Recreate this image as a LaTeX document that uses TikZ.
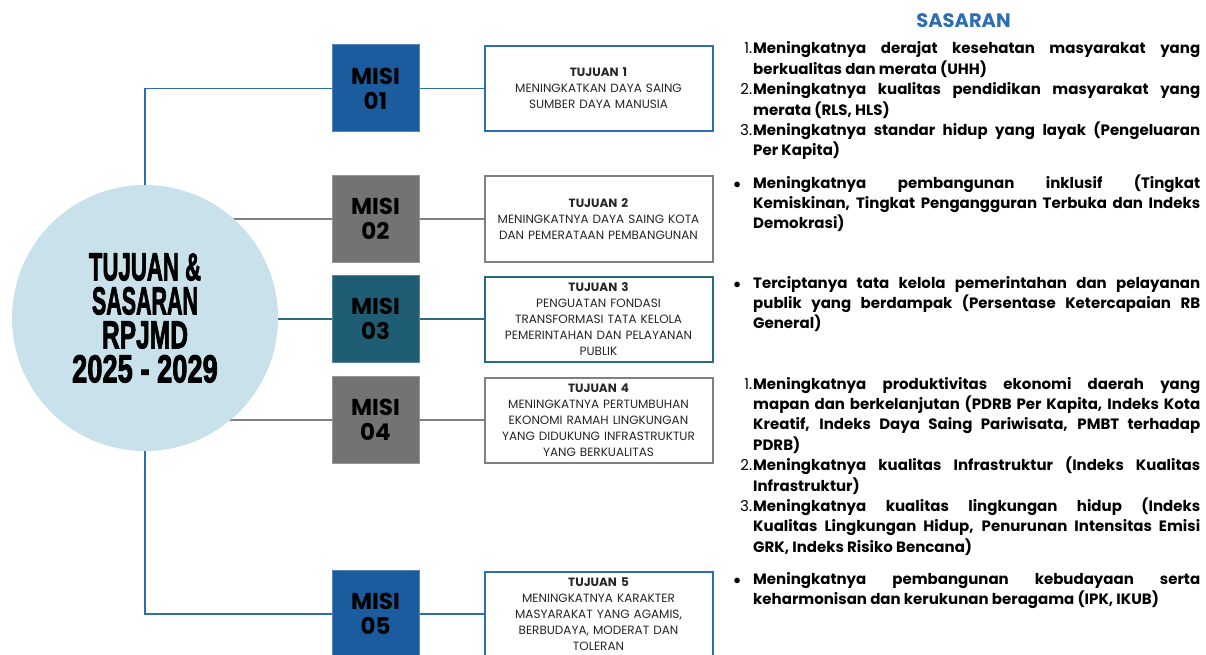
\documentclass[tikz,border=0pt]{standalone}
\usepackage{fontspec}
\usepackage{graphicx}
\setmainfont{Poppins}
\newfontface\hubfont[FakeBold=2.5]{Liberation Sans Bold}
\usetikzlibrary{positioning, backgrounds}

\definecolor{misiblue}{HTML}{1B5C9E}
\definecolor{lineblue}{HTML}{2E6DB4}
\definecolor{misigrey}{HTML}{737373}
\definecolor{linegrey}{HTML}{808080}
\definecolor{misiteal}{HTML}{1E5D73}
\definecolor{lineteal}{HTML}{2B6A80}
\definecolor{hubfill}{HTML}{C8E1EB}

\newcommand{\cond}[2]{\scalebox{#1}[1.3]{#2}}
\newcommand{\sasitem}[1]{\noindent\hangindent=20pt\hangafter=1\makebox[20pt][r]{\mdseries #1\hspace{1pt}}}
\newcommand{\sasbullet}{\noindent\hangindent=20pt\hangafter=1\makebox[20pt][l]{\hspace{0.5pt}$\bullet$}}

\tikzset{
	misi/.style={fill=#1, draw=#1!75!white, line width=1pt, minimum size=87pt, inner sep=0pt, align=center, font=\bfseries\fontsize{23}{25}\selectfont},
	tujuan/.style={draw=#1, line width=2pt, fill=white, minimum width=228pt, minimum height=85pt, text width=224pt, inner sep=0pt, align=center, text=black!85, font=\fontsize{12}{16}\selectfont},
	link/.style={draw=#1, line width=1.6pt},
	sasaran/.style={anchor=base west, inner sep=0pt, text width=467pt, align=justify, font=\bfseries\fontsize{15}{20.4}\selectfont}
}

\begin{document}
\begin{tikzpicture}[x=1pt, y=-1pt]
	\useasboundingbox (0,0) rectangle (1206,655);

	% centre circle
	\node[circle, fill=hubfill, minimum size=266pt, inner sep=0pt, align=center, font=\hubfont\fontsize{30}{34}\selectfont] (hub) at (145,318)
		{\cond{0.74}{TUJUAN \&}\\\cond{0.715}{SASARAN}\\\cond{0.82}{RPJMD}\\\cond{0.91}{2025 - 2029}};

	% misi
	\node[misi=misiblue] (m1) at (375.5,88.5) {MISI\\01};
	\node[misi=misigrey] (m2) at (375.5,219) {MISI\\02};
	\node[misi=misiteal] (m3) at (375.5,319) {MISI\\03};
	\node[misi=misigrey] (m4) at (375.5,420) {MISI\\04};
	\node[misi=misiblue] (m5) at (375.5,614) {MISI\\05};

	% tujuan
	\node[tujuan=lineblue, right=64pt of m1] (t1) {\textbf{TUJUAN 1}\\MENINGKATKAN DAYA SAING\\SUMBER DAYA MANUSIA};
	\node[tujuan=linegrey, right=64pt of m2] (t2) {\textbf{TUJUAN 2}\\MENINGKATNYA DAYA SAING KOTA\\DAN PEMERATAAN PEMBANGUNAN};
	\node[tujuan=lineteal, right=64pt of m3] (t3) {\textbf{TUJUAN 3}\\PENGUATAN FONDASI\\TRANSFORMASI TATA KELOLA\\PEMERINTAHAN DAN PELAYANAN\\PUBLIK};
	\node[tujuan=linegrey, right=64pt of m4] (t4) {\textbf{TUJUAN 4}\\MENINGKATNYA PERTUMBUHAN\\EKONOMI RAMAH LINGKUNGAN\\YANG DIDUKUNG INFRASTRUKTUR\\YANG BERKUALITAS};
	\node[tujuan=lineblue, right=64pt of m5] (t5) {\textbf{TUJUAN 5}\\MENINGKATNYA KARAKTER\\MASYARAKAT YANG AGAMIS,\\BERBUDAYA, MODERAT DAN\\TOLERAN};

	% connectors
	\begin{scope}[on background layer]
		\draw[link=lineblue] (m1.west) -- (m1.west -| hub.center) -- (m5.west -| hub.center) -- (m5.west);
		\draw[link=linegrey] (m2.west -| hub.center) -- (m2.west);
		\draw[link=lineteal] (m3.west -| hub.center) -- (m3.west);
		\draw[link=linegrey] (m4.west -| hub.center) -- (m4.west);
		\draw[link=lineblue] (m1) -- (t1);
		\draw[link=linegrey] (m2) -- (t2);
		\draw[link=lineteal] (m3) -- (t3);
		\draw[link=linegrey] (m4) -- (t4);
		\draw[link=lineblue] (m5) -- (t5);
	\end{scope}

	% sasaran
	\node[anchor=base, text=lineblue, font=\bfseries\fontsize{19.5}{21}\selectfont] (title) at (963.5,28) {SASARAN};
	\node[sasaran] (s1) at (733,54) {%
		\sasitem{1.}Meningkatnya derajat kesehatan masyarakat yang\linebreak berkualitas dan merata (UHH)\par
		\sasitem{2.}Meningkatnya kualitas pendidikan masyarakat yang\linebreak merata (RLS, HLS)\par
		\sasitem{3.}Meningkatnya standar hidup yang layak (Pengeluaran\linebreak Per Kapita)\par};
	\node[sasaran] (s2) at (733,188) {%
		\sasbullet Meningkatnya pembangunan inklusif (Tingkat\linebreak Kemiskinan, Tingkat Pengangguran Terbuka dan Indeks\linebreak Demokrasi)\par};
	\node[sasaran] (s3) at (733,288) {%
		\sasbullet Terciptanya tata kelola pemerintahan dan pelayanan\linebreak publik yang berdampak (Persentase Ketercapaian RB\linebreak General)\par};
	\node[sasaran] (s4) at (733,389) {%
		\sasitem{1.}Meningkatnya produktivitas ekonomi daerah yang\linebreak mapan dan berkelanjutan (PDRB Per Kapita, Indeks Kota\linebreak Kreatif, Indeks Daya Saing Pariwisata, PMBT terhadap\linebreak PDRB)\par
		\sasitem{2.}Meningkatnya kualitas Infrastruktur (Indeks Kualitas\linebreak Infrastruktur)\par
		\sasitem{3.}Meningkatnya kualitas lingkungan hidup (Indeks\linebreak Kualitas Lingkungan Hidup, Penurunan Intensitas Emisi\linebreak GRK, Indeks Risiko Bencana)\par};
	\node[sasaran] (s5) at (733,584) {%
		\sasbullet Meningkatnya pembangunan kebudayaan serta\linebreak keharmonisan dan kerukunan beragama (IPK, IKUB)\par};
\end{tikzpicture}
\end{document}
